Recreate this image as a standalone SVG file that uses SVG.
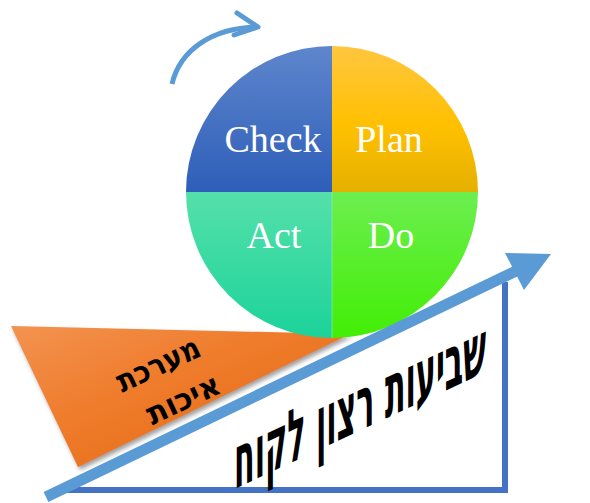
<svg xmlns="http://www.w3.org/2000/svg" width="590" height="503" viewBox="0 0 590 503">
<style>
.pdca{font-family:"Liberation Serif","Times New Roman",serif;font-size:38px;fill:#ffffff;text-anchor:middle}
.heb{font-family:"DejaVu Sans","Liberation Sans",sans-serif;font-weight:bold;fill:#000000;text-anchor:middle}
.blue{stroke:#5B9BD5;fill:none}
</style>
<defs>
<linearGradient id="gCheck" x1="0" y1="0" x2="0" y2="1"><stop offset="0" stop-color="#5E86CC"/><stop offset="1" stop-color="#2E5EB9"/></linearGradient>
<linearGradient id="gPlan" x1="0" y1="0" x2="0" y2="1"><stop offset="0" stop-color="#FFC640"/><stop offset="0.55" stop-color="#FFC000"/><stop offset="1" stop-color="#E5B000"/></linearGradient>
<linearGradient id="gAct" x1="0" y1="0" x2="0" y2="1"><stop offset="0" stop-color="#55E0AA"/><stop offset="1" stop-color="#1CD39A"/></linearGradient>
<linearGradient id="gDo" x1="0" y1="0" x2="0" y2="1"><stop offset="0" stop-color="#6CEE50"/><stop offset="1" stop-color="#42EE05"/></linearGradient>
<linearGradient id="gOrange" x1="0" y1="0" x2="1" y2="1"><stop offset="0" stop-color="#F39350"/><stop offset="0.4" stop-color="#EF7C2C"/><stop offset="1" stop-color="#E2660F"/></linearGradient>
<filter id="shadow" x="-10%" y="-10%" width="130%" height="130%"><feDropShadow dx="2" dy="3" stdDeviation="2" flood-color="#606060" flood-opacity="0.6"/></filter>
</defs>

<g id="triangle-frame">
<polyline points="62,490 505,490 505,282" fill="none" stroke="#4472C4" stroke-width="6"/>
</g>

<g id="quality-system">
<polygon points="11,326 350,334 78,467" fill="url(#gOrange)" filter="url(#shadow)"/>
<g transform="translate(158,364) rotate(-25)">
<text class="heb" x="0" y="11" font-size="31" textLength="89" lengthAdjust="spacingAndGlyphs">מערכת</text>
<text class="heb" x="8" y="53" font-size="31" textLength="78" lengthAdjust="spacingAndGlyphs">איכות</text>
</g>
</g>

<g id="pdca-circle">
<g id="check"><path d="M332,192 L186,192 A146,146 0 0 1 332,46 Z" fill="url(#gCheck)"/><text class="pdca" x="273" y="152">Check</text></g>
<g id="plan"><path d="M332,192 L332,46 A146,146 0 0 1 478,192 Z" fill="url(#gPlan)"/><text class="pdca" x="389" y="152">Plan</text></g>
<g id="do"><path d="M332,192 L478,192 A146,146 0 0 1 332,338 Z" fill="url(#gDo)"/><text class="pdca" x="391" y="248">Do</text></g>
<g id="act"><path d="M332,192 L332,338 A146,146 0 0 1 186,192 Z" fill="url(#gAct)"/><text class="pdca" x="274" y="248">Act</text></g>
<line x1="332" y1="192" x2="332" y2="338" stroke="#9EE6C0" stroke-width="1" opacity="0.6"/>
</g>

<g id="connectors">
<g id="rotation-arrow">
<path class="blue" d="M172,84 C180,50 212,28 257,27" stroke-width="5"/>
<polyline class="blue" points="237,13 258,27 234,35" stroke-width="5" stroke-linecap="round" stroke-linejoin="round"/>
</g>
<g id="growth-arrow">
<line x1="46" y1="497" x2="518" y2="270" stroke="#5B9BD5" stroke-width="11"/>
<polygon points="551,254 505,253 524,290" fill="#5B9BD5"/>
</g>
</g>

<g id="customer-satisfaction">
<g transform="skewY(-25) scale(1,2.65)">
<text class="heb" x="360" y="225.8" font-size="28" textLength="252" lengthAdjust="spacingAndGlyphs">שביעות רצון לקוח</text>
</g>
</g>
</svg>
